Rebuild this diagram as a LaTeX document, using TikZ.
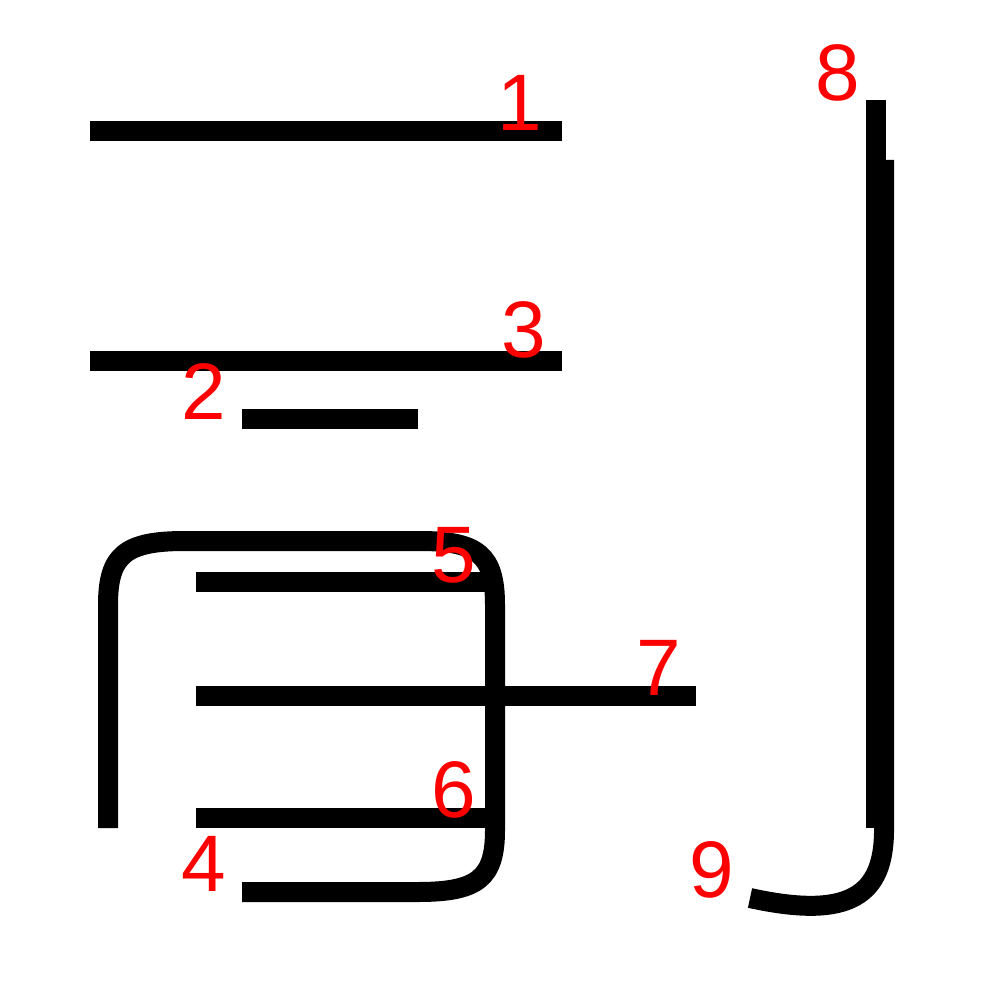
\documentclass[tikz,border=0pt]{standalone}
\usepackage{fontspec}
\setmainfont{Liberation Sans}
\usepackage{xcolor}
\usepackage{tikz}

\begin{document}
\begin{tikzpicture}[stroke/.style={line width=0.2cm,line cap=butt,line join=round},
	num/.style={text=red,inner sep=0pt,font=\fontsize{22.8}{24}\selectfont}]
	\useasboundingbox (0,0) rectangle (10,-10);
	
	\draw[stroke] (0.90,-1.31) -- (5.62,-1.31);
	\draw[stroke] (0.90,-3.61) -- (5.62,-3.61);
	\draw[stroke] (2.42,-4.19) -- (4.18,-4.19);
	
	\draw[stroke] (1.08,-8.28) -- (1.08,-6.05) .. controls (1.08,-5.55) and (1.25,-5.41) .. (1.85,-5.41) -- (4.20,-5.41) .. controls (4.78,-5.41) and (4.95,-5.55) .. (4.95,-6.05) -- (4.95,-8.30) .. controls (4.95,-8.78) and (4.78,-8.92) .. (4.18,-8.92) -- (2.42,-8.92);
	\draw[stroke] (1.96,-5.82) -- (4.90,-5.82);
	\draw[stroke] (1.96,-6.96) -- (6.96,-6.96);
	\draw[stroke] (1.96,-8.18) -- (4.90,-8.18);
	
	\draw[stroke] (8.76,-1.00) -- (8.76,-8.28);
	\draw[stroke] (8.84,-1.60) -- (8.84,-8.30) .. controls (8.84,-8.95) and (8.50,-9.20) .. (7.50,-8.98);
	
	\node[num] (n1) at (5.20,-1.03) {1};
	\node[num] (n2) at (2.04,-3.92) {2};
	\node[num] (n3) at (5.24,-3.30) {3};
	\node[num] (n4) at (2.04,-8.64) {4};
	\node[num] (n5) at (4.54,-5.55) {5};
	\node[num] (n6) at (4.54,-7.90) {6};
	\node[num] (n7) at (6.59,-6.68) {7};
	\node[num] (n8) at (8.38,-0.73) {8};
	\node[num] (n9) at (7.12,-8.70) {9};
\end{tikzpicture}
\end{document}
